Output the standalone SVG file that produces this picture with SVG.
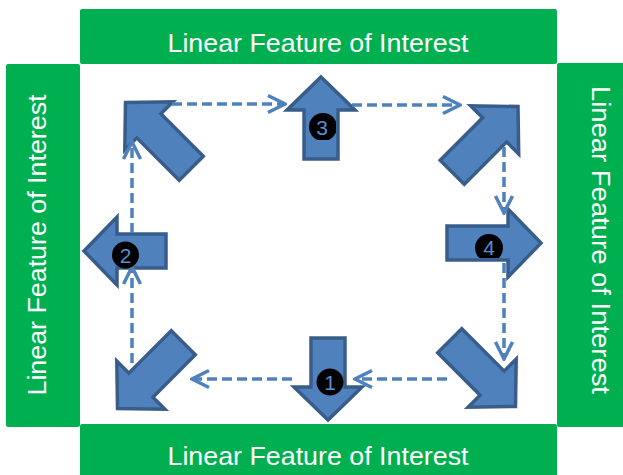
<svg xmlns="http://www.w3.org/2000/svg" width="623" height="475" viewBox="0 0 623 475">
  <style>
    .bar { fill: #00B050; }
    .bar-label { fill: #FFFFFF; font-family: "Liberation Sans", Arial, sans-serif; font-size: 25px; text-anchor: middle; }
    .block { fill: #4F81BD; stroke: #385D8A; stroke-width: 3.5; stroke-linejoin: miter; }
    .badge { fill: #000000; }
    .badge-num { fill: #5B8FD0; font-family: "Liberation Sans", Arial, sans-serif; font-size: 21px; text-anchor: middle; }
    .flow { fill: none; stroke: #4F81BD; stroke-width: 3.5; stroke-dasharray: 10 5; }
  </style>
  <defs>
    <!-- block arrows pointing up, tip at the origin -->
    <polygon id="arrow-short" points="0,0 34,33 17,33 17,82 -17,82 -17,33 -34,33"/>
    <polygon id="arrow-mid" points="0,0 34,33 17,33 17,94 -17,94 -17,33 -34,33"/>
    <polygon id="arrow-long" points="0,0 34,33 17,33 17,93 -17,93 -17,33 -34,33"/>
    <marker id="open-head" viewBox="-20 -11 22 22" refX="0" refY="0" markerWidth="22" markerHeight="22" markerUnits="userSpaceOnUse" orient="auto">
      <path d="M-17,-8.5 L0,0 L-17,8.5" fill="none" stroke="#4F81BD" stroke-width="3.5"/>
    </marker>
    <clipPath id="clip-3"><rect x="300" y="100" width="36" height="40"/></clipPath>
    <clipPath id="clip-4"><rect x="460" y="220" width="60" height="38"/></clipPath>
  </defs>

  <!-- surrounding linear features -->
  <g id="feature-top">
    <rect class="bar" x="80" y="9" width="477" height="55" rx="2"/>
    <text class="bar-label" x="318" y="52" textLength="301" lengthAdjust="spacingAndGlyphs">Linear Feature of Interest</text>
  </g>
  <g id="feature-bottom">
    <rect class="bar" x="80" y="424" width="477" height="60" rx="2"/>
    <text class="bar-label" x="318" y="465" textLength="301" lengthAdjust="spacingAndGlyphs">Linear Feature of Interest</text>
  </g>
  <g id="feature-left">
    <rect class="bar" x="6" y="64" width="74" height="363" rx="2"/>
    <text class="bar-label" transform="translate(46,245) rotate(-90)" textLength="301" lengthAdjust="spacingAndGlyphs">Linear Feature of Interest</text>
  </g>
  <g id="feature-right">
    <rect class="bar" x="557" y="63" width="80" height="364" rx="2"/>
    <text class="bar-label" transform="translate(592,240) rotate(90)" textLength="308" lengthAdjust="spacingAndGlyphs">Linear Feature of Interest</text>
  </g>

  <!-- heading arrows -->
  <g id="arrow-nw"><use href="#arrow-long" class="block" transform="translate(125.5,102.5) rotate(-45)"/></g>
  <g id="arrow-up">
    <use href="#arrow-short" class="block" transform="translate(321,77)"/>
    <circle class="badge" cx="323" cy="127" r="14" clip-path="url(#clip-3)"/>
    <text class="badge-num" x="322" y="135">3</text>
  </g>
  <g id="arrow-ne"><use href="#arrow-long" class="block" transform="translate(518,106.5) rotate(45)"/></g>
  <g id="arrow-right">
    <use href="#arrow-mid" class="block" transform="translate(541,243) rotate(90)"/>
    <circle class="badge" cx="489" cy="248" r="14" clip-path="url(#clip-4)"/>
    <text class="badge-num" x="489" y="255">4</text>
  </g>
  <g id="arrow-se"><use href="#arrow-long" class="block" transform="translate(515.5,406.5) rotate(135)"/></g>
  <g id="arrow-down">
    <use href="#arrow-short" class="block" transform="translate(328,420) rotate(180)"/>
    <circle class="badge" cx="330" cy="382" r="13.5"/>
    <text class="badge-num" x="330" y="389.5">1</text>
  </g>
  <g id="arrow-sw"><use href="#arrow-long" class="block" transform="translate(117.5,408.5) rotate(-135)"/></g>
  <g id="arrow-left">
    <use href="#arrow-short" class="block" transform="translate(84,251) rotate(-90)"/>
  </g>

  <!-- survey path -->
  <g id="connectors">
    <path class="flow" d="M172,104 L285,104" marker-end="url(#open-head)"/>
    <path class="flow" d="M352,105 L460,105" marker-end="url(#open-head)"/>
    <path class="flow" d="M504,147 L504,213" marker-end="url(#open-head)"/>
    <path class="flow" d="M504,263 L504,359" marker-end="url(#open-head)"/>
    <path class="flow" d="M447,379 L355,379" marker-end="url(#open-head)"/>
    <path class="flow" d="M292,379 L192,379" marker-end="url(#open-head)"/>
    <path class="flow" d="M132,363 L132,267" marker-end="url(#open-head)"/>
    <path class="flow" d="M132,233 L132,142" marker-end="url(#open-head)"/>
  </g>

  <g id="badge-2">
    <circle class="badge" cx="125.5" cy="255" r="13.5"/>
    <text class="badge-num" x="125.5" y="262.5">2</text>
  </g>
</svg>
